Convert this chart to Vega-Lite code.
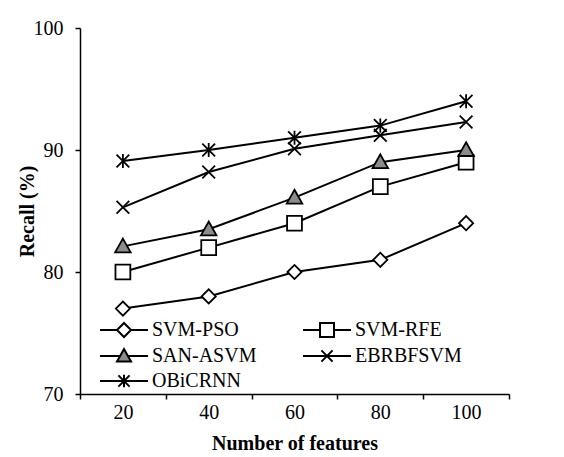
{
  "$schema": "https://vega.github.io/schema/vega-lite/v6.json",
  "width": 429,
  "height": 366,
  "autosize": "none",
  "padding": {"left": 80, "top": 28, "right": 55, "bottom": 63},
  "background": "white",
  "config": {
    "view": {"stroke": null},
    "font": "Liberation Serif, serif",
    "axis": {
      "labelFont": "Liberation Serif, serif",
      "labelFontSize": 20,
      "labelColor": "black",
      "titleFont": "Liberation Serif, serif",
      "titleFontSize": 20,
      "titleFontWeight": "bold",
      "titleColor": "black",
      "domainColor": "black",
      "domainWidth": 1.5,
      "tickColor": "black",
      "tickWidth": 1.5,
      "tickSize": 5,
      "grid": false
    },
    "legend": {
      "labelFont": "Liberation Serif, serif",
      "labelFontSize": 20,
      "labelColor": "black",
      "symbolStrokeColor": "black",
      "symbolStrokeWidth": 2,
      "symbolOpacity": 1
    }
  },
  "data": {
    "values": [
      {"f": 20, "s": "SVM-PSO", "v": 77},
      {"f": 40, "s": "SVM-PSO", "v": 78},
      {"f": 60, "s": "SVM-PSO", "v": 80},
      {"f": 80, "s": "SVM-PSO", "v": 81},
      {"f": 100, "s": "SVM-PSO", "v": 84},
      {"f": 20, "s": "SVM-RFE", "v": 80},
      {"f": 40, "s": "SVM-RFE", "v": 82},
      {"f": 60, "s": "SVM-RFE", "v": 84},
      {"f": 80, "s": "SVM-RFE", "v": 87},
      {"f": 100, "s": "SVM-RFE", "v": 89},
      {"f": 20, "s": "SAN-ASVM", "v": 82.1},
      {"f": 40, "s": "SAN-ASVM", "v": 83.5},
      {"f": 60, "s": "SAN-ASVM", "v": 86.1},
      {"f": 80, "s": "SAN-ASVM", "v": 89},
      {"f": 100, "s": "SAN-ASVM", "v": 90},
      {"f": 20, "s": "EBRBFSVM", "v": 85.3},
      {"f": 40, "s": "EBRBFSVM", "v": 88.2},
      {"f": 60, "s": "EBRBFSVM", "v": 90.1},
      {"f": 80, "s": "EBRBFSVM", "v": 91.2},
      {"f": 100, "s": "EBRBFSVM", "v": 92.3},
      {"f": 20, "s": "OBiCRNN", "v": 89.1},
      {"f": 40, "s": "OBiCRNN", "v": 90},
      {"f": 60, "s": "OBiCRNN", "v": 91},
      {"f": 80, "s": "OBiCRNN", "v": 92},
      {"f": 100, "s": "OBiCRNN", "v": 94}
    ]
  },
  "encoding": {
    "x": {
      "field": "f",
      "type": "ordinal",
      "bandPosition": 0.5,
      "scale": {"type": "band", "domain": [20, 40, 60, 80, 100], "paddingInner": 0, "paddingOuter": 0},
      "axis": {"labelAngle": 0, "tickBand": "extent", "title": "Number of features", "labelPadding": 3, "titlePadding": 11}
    },
    "y": {
      "field": "v",
      "type": "quantitative",
      "scale": {"domain": [70, 100], "nice": false, "zero": false},
      "axis": {"values": [70, 80, 90, 100], "title": "Recall (%)", "labelPadding": 12, "titlePadding": -4}
    }
  },
  "layer": [
    {
      "mark": {"type": "line", "color": "black", "strokeWidth": 2},
      "encoding": {"detail": {"field": "s"}}
    },
    {
      "mark": {"type": "point", "filled": true, "stroke": "black", "strokeWidth": 1.8, "size": 200, "opacity": 1},
      "encoding": {
        "shape": {
          "field": "s",
          "type": "nominal",
          "scale": {
            "domain": ["SVM-PSO", "SVM-RFE", "SAN-ASVM", "EBRBFSVM", "OBiCRNN"],
            "range": [
              "M-1,0L0,-1L1,0L0,1Z",
              "M-1.05,-1.05L1.05,-1.05L1.05,1.05L-1.05,1.05Z",
              "M0,-1.1L1.1,0.85L-1.1,0.85Z",
              "M-0.9,-0.9L0.9,0.9M-0.9,0.9L0.9,-0.9",
              "M-0.9,-0.9L0.9,0.9M-0.9,0.9L0.9,-0.9M0,-1L0,1"
            ]
          },
          "legend": null
        },
        "fill": {
          "field": "s",
          "type": "nominal",
          "scale": {
            "domain": ["SVM-PSO", "SVM-RFE", "SAN-ASVM", "EBRBFSVM", "OBiCRNN"],
            "range": ["white", "white", "#8c8c8c", "white", "white"]
          },
          "legend": null
        }
      }
    },
    {
      "mark": {"type": "point", "filled": true, "stroke": "black", "strokeWidth": 2, "size": 196, "opacity": 0},
      "encoding": {
        "shape": {
          "field": "s",
          "type": "nominal",
          "scale": {
            "domain": ["SVM-PSO", "SVM-RFE", "SAN-ASVM", "EBRBFSVM", "OBiCRNN"],
            "range": [
              "M-3.43,0L-1,0M1,0L3.43,0M-1,0L0,-1L1,0L0,1Z",
              "M-3.43,0L-1,0M1,0L3.43,0M-1,-1L1,-1L1,1L-1,1Z",
              "M-3.43,0L-0.556,0M0.556,0L3.43,0M0,-1L1,0.8L-1,0.8Z",
              "M-3.43,0L3.43,0M-0.8,-0.8L0.8,0.8M-0.8,0.8L0.8,-0.8",
              "M-3.43,0L3.43,0M-0.8,-0.8L0.8,0.8M-0.8,0.8L0.8,-0.8M0,-0.9L0,0.9"
            ]
          },
          "legend": {
            "title": null,
            "orient": "none",
            "direction": "horizontal",
            "legendX": 34,
            "legendY": 292,
            "columns": 2,
            "padding": 0,
            "symbolSize": 196,
            "symbolOpacity": 1,
            "symbolStrokeColor": "black",
            "symbolStrokeWidth": 2,
            "labelOffset": 18,
            "columnPadding": 41,
            "rowPadding": 4,
            "encode": {
              "symbols": {
                "update": {
                  "stroke": {"value": "black"},
                  "strokeWidth": {"value": 2}
                }
              }
            }
          }
        },
        "fill": {
          "field": "s",
          "type": "nominal",
          "scale": {
            "domain": ["SVM-PSO", "SVM-RFE", "SAN-ASVM", "EBRBFSVM", "OBiCRNN"],
            "range": ["white", "white", "#8c8c8c", "white", "white"]
          },
          "legend": {
            "title": null,
            "orient": "none",
            "direction": "horizontal",
            "legendX": 34,
            "legendY": 292,
            "columns": 2,
            "padding": 0,
            "symbolSize": 196,
            "symbolOpacity": 1,
            "symbolStrokeColor": "black",
            "symbolStrokeWidth": 2,
            "labelOffset": 18,
            "columnPadding": 41,
            "rowPadding": 4,
            "encode": {
              "symbols": {
                "update": {
                  "stroke": {"value": "black"},
                  "strokeWidth": {"value": 2}
                }
              }
            }
          }
        }
      }
    }
  ],
  "resolve": {"scale": {"shape": "independent", "fill": "independent"}}
}
